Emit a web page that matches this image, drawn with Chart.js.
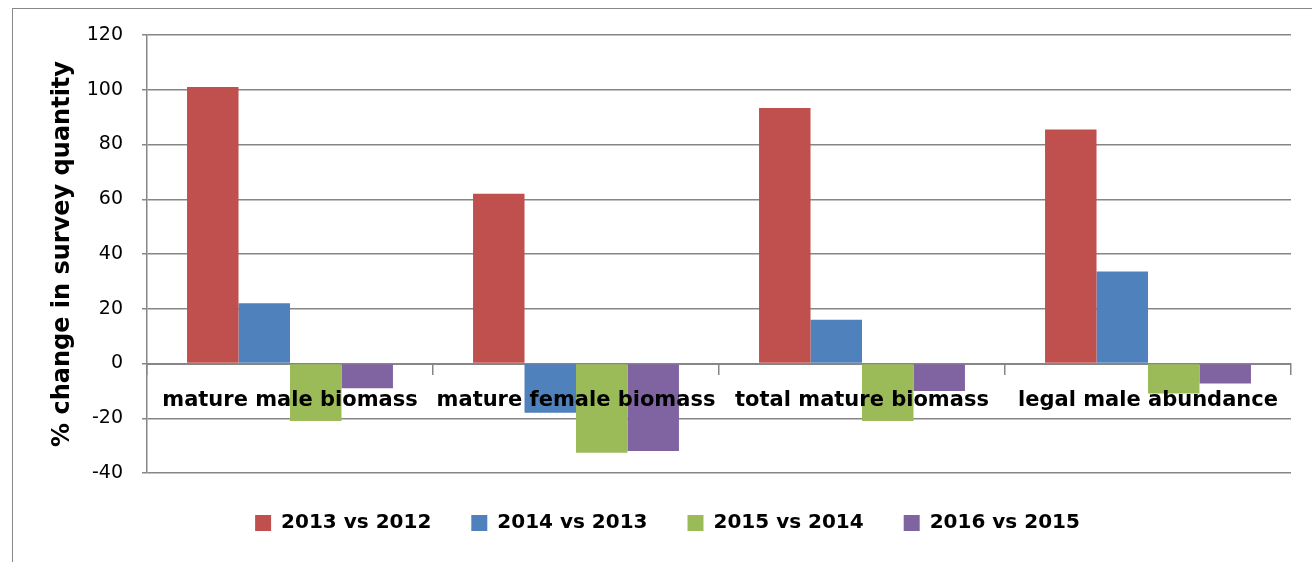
<!DOCTYPE html>
<html>
<head>
<meta charset="utf-8">
<script src="https://cdn.jsdelivr.net/npm/chart.js@4"></script>
<style>
  html, body { margin: 0; padding: 0; background: #fff; }
  #wrap { width: 1312px; height: 562px; }
</style>
</head>
<body>
<div id="wrap"><canvas id="chart"></canvas></div>
<script>
const categories = ["mature male biomass", "mature female biomass", "total mature biomass", "legal male abundance"]
const seriesNames = ["2013 vs 2012", "2014 vs 2013", "2015 vs 2014", "2016 vs 2015"]
const change2013 = [101, 62, 93.3, 85.5]
const change2014 = [22, -18, 16, 33.6]
const change2015 = [-21, -32.6, -21, -11]
const change2016 = [-9, -32, -10, -7.3]
const yTicks = [-40, -20, 0, 20, 40, 60, 80, 100, 120]

const colors = ["#C0504D", "#4F81BD", "#9BBB59", "#8064A2"]
const gridColor = "#868686"
const font = "'DejaVu Sans', Verdana, sans-serif"

// frame round the whole chart (only left and top edges are visible)
const framePlugin = {
  id: "frame",
  beforeDraw(chart) {
    const ctx = chart.ctx
    ctx.save()
    ctx.strokeStyle = "#888888"
    ctx.lineWidth = 1
    ctx.strokeRect(12.5, 8.5, 1400, 600)
    ctx.restore()
  },
}

const ctx = document.getElementById("chart").getContext("2d")

new Chart(ctx, {
  type: "bar",
  data: {
    labels: categories,
    datasets: [change2013, change2014, change2015, change2016].map((values, i) => ({
      label: seriesNames[i],
      data: values,
      backgroundColor: colors[i],
      borderWidth: 0,
      categoryPercentage: 0.72,
      barPercentage: 1.0,
    })),
  },
  options: {
    responsive: true,
    maintainAspectRatio: false,
    animation: false,
    layout: {
      padding: { left: 44, right: 21, top: 35, bottom: 19 },
    },
    scales: {
      x: {
        position: { y: 0 },
        grid: {
          offset: true,
          drawOnChartArea: false,
          drawTicks: true,
          tickLength: 10,
          color: gridColor,
          lineWidth: 1.5,
        },
        border: { display: true, color: gridColor, width: 2 },
        ticks: {
          z: 1, // category names sit on top of the bars
          autoSkip: false,
          maxRotation: 0,
          minRotation: 0,
          padding: 14,
          color: "#000",
          font: { family: font, size: 21, weight: "bold" },
        },
      },
      y: {
        min: -40,
        max: 120,
        afterFit(scale) {
          scale.width = 103
        },
        afterBuildTicks(scale) {
          scale.ticks = yTicks.map((v) => ({ value: v }))
        },
        grid: {
          color: gridColor,
          lineWidth: 1.5,
          tickLength: 5,
        },
        border: { display: true, color: gridColor, width: 1.5 },
        ticks: {
          padding: 19,
          color: "#000",
          font: { family: font, size: 19 },
        },
        title: {
          display: true,
          text: "% change in survey quantity",
          color: "#000",
          font: { family: font, size: 24, weight: "bold" },
        },
      },
    },
    plugins: {
      legend: {
        position: "bottom",
        labels: {
          boxWidth: 16,
          boxHeight: 16,
          padding: 40,
          color: "#000",
          font: { family: font, size: 20, weight: "bold" },
        },
      },
      tooltip: { enabled: false },
    },
  },
  plugins: [framePlugin],
})
</script>
</body>
</html>
